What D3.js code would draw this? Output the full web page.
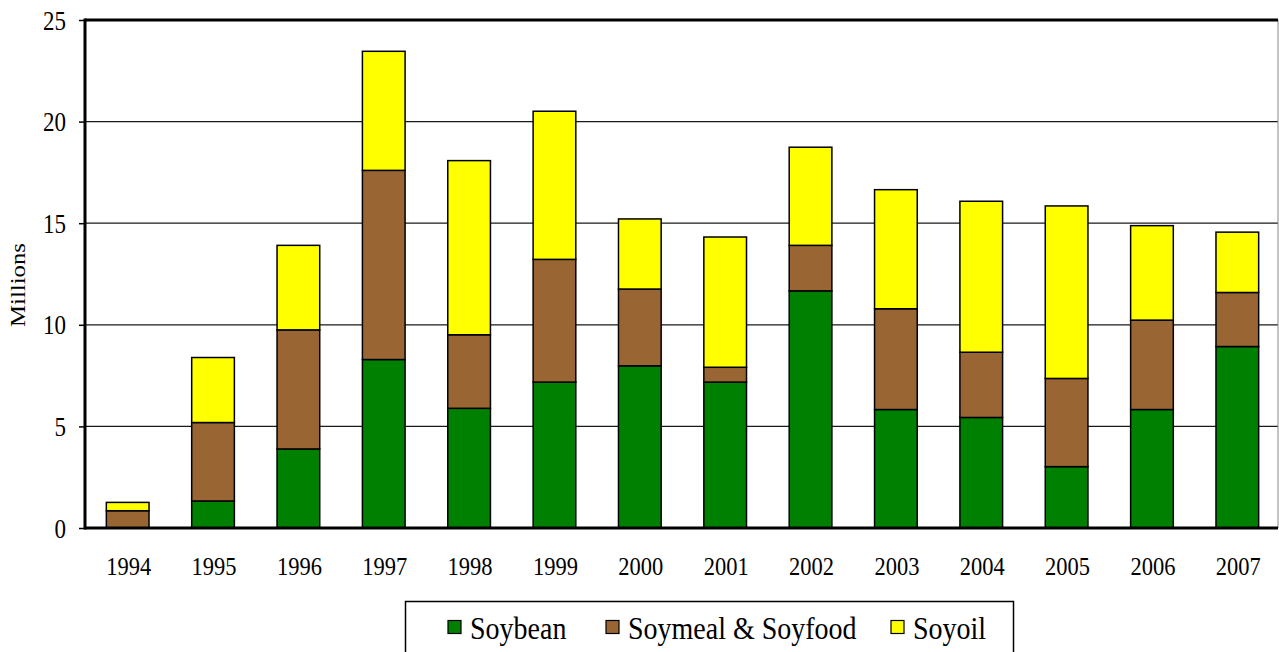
<!DOCTYPE html>
<html>
<head>
<meta charset="utf-8">
<script src="https://cdn.jsdelivr.net/npm/d3@7"></script>
<style>
  body { margin: 0; background: #fff; }
  text { font-family: "Liberation Serif", "Times New Roman", serif; fill: #000; }
</style>
</head>
<body>
<div id="chart"></div>
<script>
// categories and series (millions)
var years = ["1994","1995","1996","1997","1998","1999","2000","2001","2002","2003","2004","2005","2006","2007"]
var soybean = [0, 1.33, 3.89, 8.29, 5.89, 7.18, 7.98, 7.18, 11.67, 5.83, 5.44, 3.02, 5.83, 8.93]
var soymeal = [0.85, 3.86, 5.86, 9.31, 3.62, 6.04, 3.78, 0.73, 2.24, 4.96, 3.21, 4.34, 4.40, 2.66]
var soyoil = [0.41, 3.20, 4.16, 5.86, 8.57, 7.29, 3.45, 6.41, 4.83, 5.86, 7.43, 8.49, 4.65, 2.97]
var seriesNames = ["Soybean", "Soymeal & Soyfood", "Soyoil"]
var seriesColors = ["#008000", "#996633", "#ffff00"]
var yTicks = [0, 5, 10, 15, 20, 25]

var W = 1279, H = 652
var mLeft = 85, mRight = 1280, mTop = 20, mBottom = 528
var stretch = 1.15

// build rows for d3.stack
var rows = years.map(function (y, i) {
  return { year: y, Soybean: soybean[i], "Soymeal & Soyfood": soymeal[i], Soyoil: soyoil[i] }
})
var stacked = d3.stack().keys(seriesNames)(rows)

var svg = d3.select("#chart").append("svg")
  .attr("width", W).attr("height", H)

var x = d3.scaleBand().domain(years).range([mLeft, mRight]).paddingInner(0.5).paddingOuter(0.25)
var y = d3.scaleLinear().domain([0, 25]).range([mBottom, mTop])

// gridlines
svg.append("g").selectAll("line")
  .data(yTicks.filter(function (t) { return t > 0 && t < 25 }))
  .enter().append("line")
  .attr("x1", mLeft).attr("x2", 1278)
  .attr("y1", function (d) { return y(d) }).attr("y2", function (d) { return y(d) })
  .attr("stroke", "#1a1a1a").attr("stroke-width", 1.3)

// right border
svg.append("line")
  .attr("x1", 1278).attr("x2", 1278).attr("y1", y(25)).attr("y2", mBottom)
  .attr("stroke", "#888").attr("stroke-width", 1)

// bars
svg.append("g").selectAll("g")
  .data(stacked)
  .enter().append("g")
  .attr("fill", function (d, i) { return seriesColors[i] })
  .selectAll("rect")
  .data(function (d) { return d.filter(function (p) { return p[1] - p[0] > 0 }) })
  .enter().append("rect")
  .attr("x", function (d) { return x(d.data.year) })
  .attr("width", x.bandwidth())
  .attr("y", function (d) { return y(d[1]) })
  .attr("height", function (d) { return y(d[0]) - y(d[1]) })
  .attr("stroke", "#000").attr("stroke-width", 1.5)

// top line (25) thick
svg.append("line")
  .attr("x1", mLeft).attr("x2", 1278).attr("y1", y(25)).attr("y2", y(25))
  .attr("stroke", "#000").attr("stroke-width", 3)

// y axis
var yAxis = svg.append("g")
  .attr("transform", "translate(" + mLeft + ",0)")
  .call(d3.axisLeft(y).tickValues(yTicks).tickSize(6).tickPadding(0).tickFormat(d3.format("d")))
yAxis.select(".domain").remove()
yAxis.selectAll(".tick line").attr("stroke", "#000").attr("stroke-width", 1.5)
yAxis.selectAll(".tick text")
  .attr("x", -19).attr("dy", null).attr("y", 0)
  .attr("transform", "scale(1," + stretch + ")")
  .attr("dominant-baseline", "central")
  .style("font-size", "23px")
svg.append("line")
  .attr("x1", mLeft).attr("x2", mLeft).attr("y1", y(25) - 1.5).attr("y2", mBottom + 1.5)
  .attr("stroke", "#000").attr("stroke-width", 3)

// x axis
var xAxis = svg.append("g")
  .attr("transform", "translate(0," + mBottom + ")")
  .call(d3.axisBottom(x).tickSize(0).tickPadding(0))
xAxis.select(".domain").remove()
xAxis.selectAll(".tick text")
  .attr("dy", null).attr("y", 0)
  .attr("transform", "translate(1,47) scale(1," + stretch + ")")
  .style("font-size", "22.5px")
svg.append("line")
  .attr("x1", mLeft).attr("x2", 1278).attr("y1", mBottom).attr("y2", mBottom)
  .attr("stroke", "#000").attr("stroke-width", 3)

// y label
svg.append("text")
  .attr("transform", "translate(25,285) rotate(-90) scale(" + stretch + ",1)")
  .attr("text-anchor", "middle")
  .style("font-size", "21.5px")
  .text("Millions")

// legend
var legend = svg.append("g")
legend.append("rect")
  .attr("x", 405.5).attr("y", 601.5).attr("width", 608).attr("height", 60)
  .attr("fill", "#fff").attr("stroke", "#000").attr("stroke-width", 1.5)
var legendX = [448, 606, 891]
seriesNames.forEach(function (name, i) {
  legend.append("rect")
    .attr("x", legendX[i]).attr("y", 620.5).attr("width", 13).attr("height", 13)
    .attr("fill", seriesColors[i]).attr("stroke", "#000").attr("stroke-width", 1.2)
  legend.append("text")
    .attr("transform", "translate(" + (legendX[i] + 22) + ",639) scale(1," + stretch + ")")
    .style("font-size", "28px")
    .text(name)
})
</script>
</body>
</html>
